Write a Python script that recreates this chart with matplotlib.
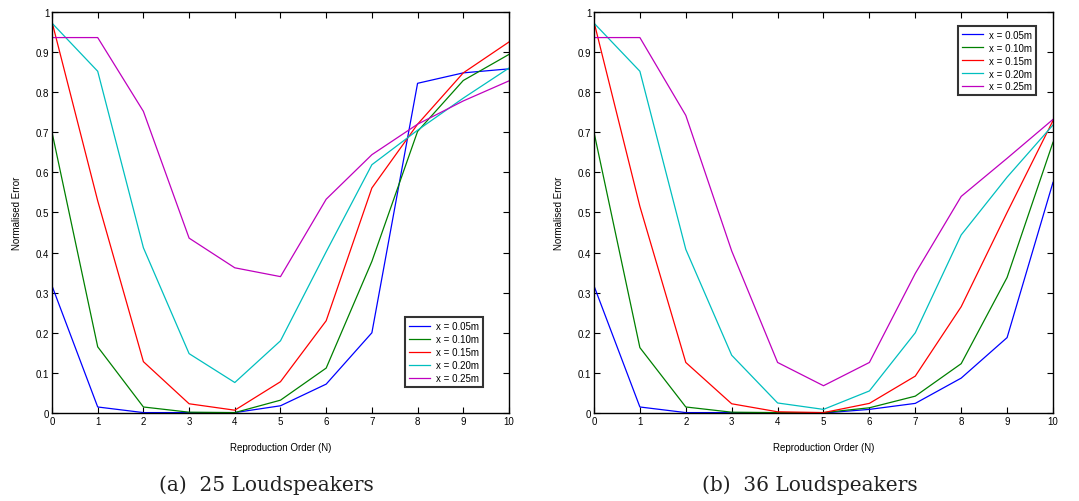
import numpy as np
import matplotlib
matplotlib.use('Agg')
import matplotlib.pyplot as plt
from matplotlib.ticker import FuncFormatter

orders = np.arange(0, 11)
labels = ['x = 0.05m', 'x = 0.10m', 'x = 0.15m', 'x = 0.20m', 'x = 0.25m']
colors = ['#0000ff', '#008000', '#ff0000', '#00bfbf', '#bf00bf']

# (a) 25 loudspeakers
err_25 = [
    [0.317, 0.015, 0.001, 0.001, 0.001, 0.018, 0.072, 0.200, 0.822, 0.848, 0.858],
    [0.700, 0.165, 0.015, 0.002, 0.001, 0.032, 0.112, 0.378, 0.702, 0.829, 0.894],
    [0.975, 0.529, 0.128, 0.023, 0.007, 0.078, 0.230, 0.561, 0.720, 0.848, 0.925],
    [0.972, 0.852, 0.412, 0.148, 0.076, 0.180, 0.402, 0.619, 0.705, 0.785, 0.860],
    [0.936, 0.936, 0.752, 0.436, 0.362, 0.340, 0.533, 0.644, 0.720, 0.778, 0.828],
]

# (b) 36 loudspeakers
err_36 = [
    [0.317, 0.015, 0.001, 0.001, 0.000, 0.000, 0.009, 0.024, 0.087, 0.188, 0.575],
    [0.700, 0.163, 0.015, 0.002, 0.001, 0.001, 0.013, 0.042, 0.123, 0.338, 0.675],
    [0.975, 0.515, 0.126, 0.023, 0.003, 0.001, 0.024, 0.092, 0.265, 0.500, 0.729],
    [0.972, 0.852, 0.408, 0.144, 0.025, 0.009, 0.055, 0.200, 0.444, 0.588, 0.718],
    [0.936, 0.936, 0.742, 0.404, 0.126, 0.068, 0.126, 0.348, 0.540, 0.635, 0.732],
]

captions = ['(a)  25 Loudspeakers', '(b)  36 Loudspeakers']

plt.rcParams['font.family'] = ['Liberation Sans', 'DejaVu Sans']

fig = plt.figure(figsize=(10.79, 5.02), dpi=100)
ax_a = fig.add_axes([0.0482, 0.1753, 0.4235, 0.799])
ax_b = fig.add_axes([0.5505, 0.1753, 0.4254, 0.799])


def fmt(v, pos):
    if abs(v) < 1e-9:
        return '0'
    if abs(v - 1) < 1e-9:
        return '1'
    return f'{v:.1f}'


def draw(ax, data, caption, loc, anchor):
    for vals, lab, col in zip(data, labels, colors):
        ax.plot(orders, vals, color=col, linewidth=0.9, label=lab)
    ax.set_xlim(0, 10)
    ax.set_ylim(0, 1)
    ax.set_xticks(orders)
    ax.set_yticks(np.arange(0, 1.01, 0.1))
    ax.yaxis.set_major_formatter(FuncFormatter(fmt))
    ax.tick_params(direction='in', top=True, right=True, length=4, width=0.8,
                   labelsize=7, pad=2)
    for s in ax.spines.values():
        s.set_linewidth(1.0)
    ax.set_xlabel('Reproduction Order (N)', fontsize=7, labelpad=12)
    ax.set_ylabel('Normalised Error', fontsize=7, labelpad=10)
    leg = ax.legend(loc=loc, bbox_to_anchor=anchor, fontsize=7, frameon=True,
                    fancybox=False, handlelength=2.2, labelspacing=0.3,
                    borderpad=0.4, handletextpad=0.6, borderaxespad=0)
    leg.get_frame().set_edgecolor('black')
    leg.get_frame().set_linewidth(1.5)
    ax.text(0.47, -0.178, caption, transform=ax.transAxes, ha='center', va='center',
            fontsize=14.5, family=['DejaVu Serif'], color='#222222')


draw(ax_a, err_25, captions[0], 'lower right', (0.943, 0.065))
draw(ax_b, err_36, captions[1], 'upper right', (0.963, 0.965))

fig.savefig('out.png', dpi=100)
